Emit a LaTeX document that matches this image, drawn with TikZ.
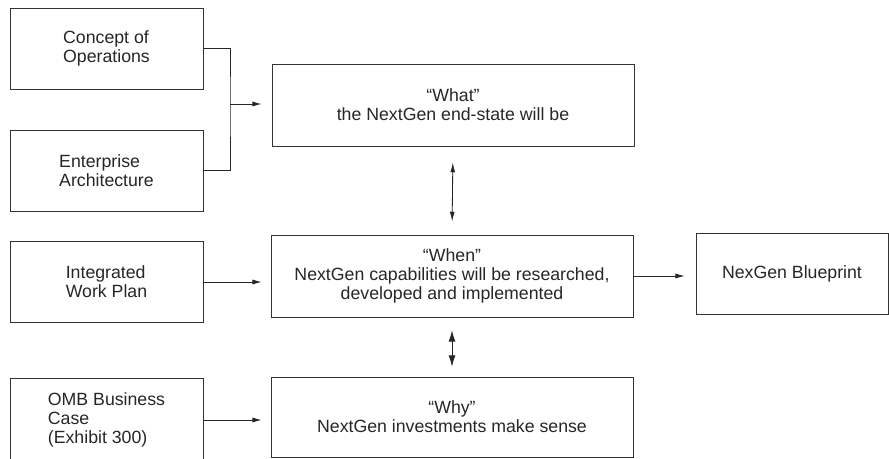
\documentclass[tikz,border=0pt]{standalone}
\usepackage{fontspec}
\setmainfont{Liberation Sans}
\usetikzlibrary{arrows.meta}

\begin{document}
\begin{tikzpicture}[line width=0.6pt, color=black!85,
  box/.style={shape=rectangle, draw=black!80, minimum width=4.825cm, minimum height=2.025cm, inner sep=0pt, font=\fontsize{12.6}{13.6}\selectfont},
  srcbox/.style={box, align=left},
  wbox/.style={box, align=center, minimum width=9.05cm},
  arr/.style={-{Latex[length=6.5pt,width=3.6pt]}},
  darr/.style={{Latex[length=7pt,width=3.4pt]}-{Latex[length=7pt,width=3.4pt]}},
  bigdarr/.style={{Latex[length=8pt,width=5pt]}-{Latex[length=8pt,width=5pt]}}]
%%%%%%%%%%%%%%%%%%%%%%%%%%%%%%%%%%%%%%%%%%% HELP LINES
%\draw[help lines] (0,0) grid +(22,11);
\useasboundingbox (0,0) rectangle (22.225,11.45);

%%%%%%%%%%%%%%%%%%%%%%%%%%%%%%%%%%%%%%%%%%% inputs
\node[srcbox](concept) at (2.6625,10.2375){Concept of\\Operations};
\node[srcbox](enterprise) at (2.6625,7.1875){Enterprise\\Architecture};
\node[srcbox](integrated) at (2.6625,4.4){Integrated\\Work Plan};
\node[srcbox, minimum height=2.1cm](omb) at (2.6625,0.95){OMB Business\\Case\\(Exhibit 300)};

%%%%%%%%%%%%%%%%%%%%%%%%%%%%%%%%%%%%%%%%%%% what, when, why
\node[wbox, minimum height=2.05cm](what) at (11.325,8.825){“What”\\the NextGen end-state will be};
\node[wbox, minimum height=2.05cm](when) at (11.3,4.55){“When”\\NextGen capabilities will be researched,\\developed and implemented};
\node[wbox, minimum height=2cm](why) at (11.3,1.025){“Why”\\NextGen investments make sense};
\node[box, minimum width=4.8cm](blueprint) at (19.8,4.6125){NexGen Blueprint};

%%%%% connectors
\coordinate (merge) at (5.75,8.85);
\draw (concept.east) -| (merge) |- (enterprise.east);
\draw[arr, shorten >=0.25cm] (merge) -- (merge -| what.west);
\draw[arr, shorten >=0.225cm] (integrated.east) -- (integrated.east -| when.west);
\draw[arr, shorten >=0.225cm] (omb.east) -- (omb.east -| why.west);
\draw[arr, shorten >=0.275cm] (when.east) -- (when.east -| blueprint.west);
\draw[darr, shorten <=0.325cm, shorten >=0.4cm] (when.north) -- (what.south);
\draw[bigdarr, shorten <=0.25cm, shorten >=0.325cm] (why.north) -- (when.south);
\end{tikzpicture}
\end{document}
